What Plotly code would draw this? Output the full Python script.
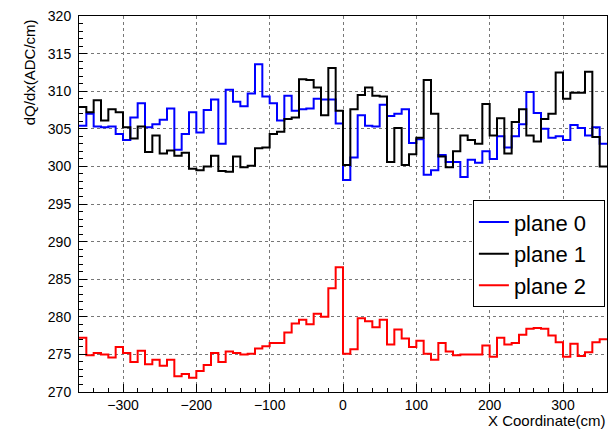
import numpy as np
import plotly.graph_objects as go

# Binning: 72 bins of 10 cm from -360 to 360 cm
x_min, x_max, n_bins = -360, 360, 72

plane0 = [
    305.4, 307.0, 305.3, 305.2, 305.3, 304.3, 303.5, 306.5, 308.4, 305.2,
    305.6, 306.2, 307.7, 302.2, 304.3, 307.2, 304.5, 307.5, 308.9, 303.0,
    310.2, 308.6, 308.0, 309.7, 313.6, 309.3, 308.4, 306.1, 309.4, 307.4,
    307.6, 307.7, 309.0, 308.9, 308.9, 305.7, 298.2, 301.2, 306.8, 305.4,
    305.3, 308.2, 306.7, 307.0, 307.6, 303.1, 303.6, 298.9, 299.5, 301.5,
    300.6, 300.6, 298.6, 300.9, 300.5, 302.0, 301.0, 304.0, 302.5, 304.0,
    305.6, 309.9, 307.1, 305.0, 303.8, 304.0, 303.5, 305.5, 305.1, 304.1,
    305.2, 303.0,
]

plane1 = [
    307.9, 307.2, 308.8, 306.1, 307.6, 307.2, 305.2, 303.7, 305.3, 301.9,
    304.1, 301.7, 302.1, 301.4, 301.8, 299.7, 299.5, 300.0, 301.4, 299.4,
    299.3, 301.3, 299.9, 300.1, 302.4, 302.5, 304.3, 304.6, 306.3, 306.5,
    311.6, 311.5, 310.5, 306.8, 313.1, 307.4, 300.2, 307.6, 309.5, 310.5,
    309.4, 309.3, 300.6, 305.1, 300.2, 301.6, 303.8, 311.5, 307.0, 301.3,
    299.9, 302.0, 304.1, 303.5, 303.0, 308.3, 304.1, 306.4, 301.7, 305.9,
    307.6, 304.1, 303.3, 306.3, 307.0, 312.5, 309.0, 309.8, 309.8, 312.6,
    303.9, 300.0,
]

plane2 = [
    277.2, 274.9, 275.2, 275.0, 274.6, 276.0, 275.2, 274.0, 275.5, 273.7,
    274.3, 273.5, 274.3, 272.1, 272.4, 271.9, 272.8, 273.6, 275.2, 274.0,
    275.4, 275.2, 275.0, 275.1, 275.8, 276.1, 276.5, 276.5, 277.9, 279.1,
    279.6, 279.0, 280.4, 280.0, 283.8, 286.6, 275.1, 275.7, 279.8, 279.4,
    278.6, 279.6, 276.3, 278.3, 277.1, 276.0, 276.8, 275.1, 274.3, 276.5,
    275.4, 274.9, 275.0, 275.0, 275.0, 276.2, 274.7, 277.2, 276.3, 276.5,
    277.6, 278.4, 278.5, 278.4, 277.5, 276.6, 274.7, 276.4, 274.8, 275.3,
    276.6, 277.0,
]

series = [
    ("plane 0", plane0, "#0000ff"),
    ("plane 1", plane1, "#000000"),
    ("plane 2", plane2, "#ff0000"),
]

edges = np.linspace(x_min, x_max, n_bins + 1)

fig = go.Figure()
for name, vals, color in series:
    # step outline: each bin drawn flat across its width
    y_step = list(vals) + [vals[-1]]
    fig.add_trace(go.Scatter(
        x=edges, y=y_step, mode="lines",
        # trailing no-break spaces pad the legend box on the right
        name=name + "\u00a0\u00a0",
        line=dict(color=color, width=2, shape="hv"),
    ))

font_family = "Liberation Sans, Arial, Helvetica, sans-serif"

axis_common = dict(
    showline=True, linecolor="black", linewidth=1, mirror=True,
    ticks="inside", tickcolor="black", ticklen=8, tickwidth=1,
    showgrid=True, gridcolor="#777777", griddash="dot", gridwidth=1,
    zeroline=False,
    tickfont=dict(family=font_family, size=14, color="black"),
)

fig.update_xaxes(
    range=[x_min, x_max], tick0=0, dtick=100,
    minor=dict(dtick=20, ticks="inside", ticklen=4, tickcolor="black", showgrid=False),
    ticklabelstandoff=0,
    **axis_common,
)
fig.update_yaxes(
    range=[270, 320], tick0=270, dtick=5,
    minor=dict(dtick=1, ticks="inside", ticklen=4, tickcolor="black", showgrid=False),
    ticklabelstandoff=4,
    **axis_common,
)

fig.add_annotation(
    text="dQ/dx(ADC/cm)", textangle=-90,
    xref="paper", yref="paper", x=-0.093, y=0.85,
    xanchor="center", yanchor="middle", showarrow=False,
    font=dict(family=font_family, size=15, color="black"),
)
fig.add_annotation(
    text="X Coordinate(cm)",
    xref="paper", yref="paper", x=1.0, y=-0.101,
    xanchor="right", yanchor="bottom", showarrow=False,
    font=dict(family=font_family, size=15, color="black"),
    borderpad=0,
)

fig.update_layout(
    width=608, height=430,
    margin=dict(l=79, r=1, t=16, b=38),
    paper_bgcolor="white", plot_bgcolor="white",
    showlegend=True,
    legend=dict(
        x=0.996, y=0.51, xanchor="right", yanchor="top",
        bgcolor="white", bordercolor="black", borderwidth=1,
        font=dict(family=font_family, size=22, color="black"),
        itemwidth=30, tracegroupgap=0,
    ),
)

fig.write_html("out.html")
